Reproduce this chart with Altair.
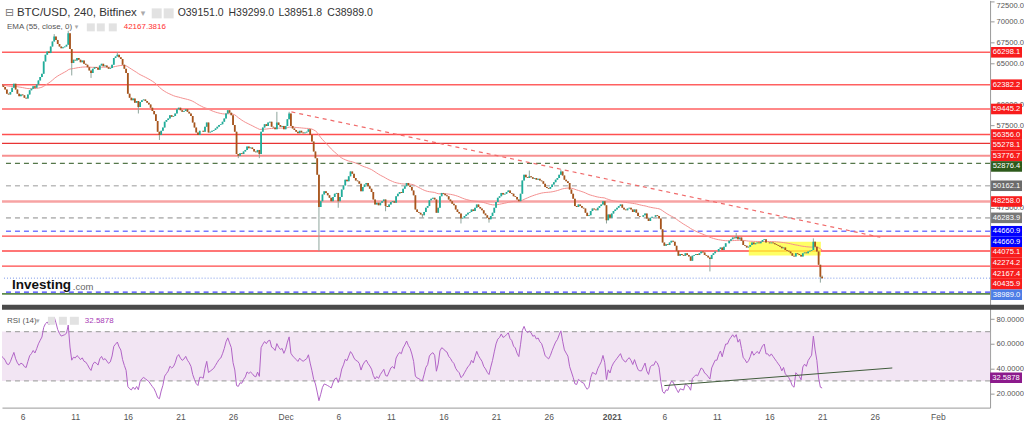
import altair as alt
import pandas as pd

FONT = "Liberation Sans"

# ---------------- data ----------------
# 4-hour closes, six per day (days counted from 1 Nov), 4 Nov .. 20 Jan
closes_by_day = [
    [62300, 62100, 61800, 61300, 61200, 61500],  # Nov 4
    [62000, 62500, 61800, 61300, 61000, 61200],  # Nov 5
    [61100, 60800, 60700, 61200, 61700, 61900],  # Nov 6
    [62200, 62000, 62400, 62900, 63300, 63700],  # Nov 7
    [65200, 66000, 66400, 66200, 67000, 67600],  # Nov 8
    [68200, 67800, 67300, 67000, 66800, 66900],  # Nov 9
    [67000, 67200, 68600, 66700, 65000, 65400],  # Nov 10
    [65300, 65600, 65400, 65100, 65300, 64900],  # Nov 11
    [64800, 64500, 64100, 63800, 64300, 64500],  # Nov 12
    [64400, 64200, 64700, 64900, 64600, 64700],  # Nov 13
    [64500, 64300, 64400, 64800, 65600, 65800],  # Nov 14
    [66000, 65700, 65500, 64800, 64300, 63800],  # Nov 15
    [61300, 60800, 60500, 60700, 60200, 60400],  # Nov 16
    [59700, 60300, 60500, 60600, 60400, 60200],  # Nov 17
    [60000, 59600, 59200, 58800, 58000, 56700],  # Nov 18
    [56300, 56800, 57200, 57900, 58100, 58300],  # Nov 19
    [58700, 58500, 58600, 58900, 59400, 59600],  # Nov 20
    [59300, 59100, 59200, 59400, 59100, 58900],  # Nov 21
    [58600, 57800, 57200, 56600, 56300, 56800],  # Nov 22
    [56800, 56700, 57300, 57800, 56600, 56700],  # Nov 23
    [56800, 56900, 57100, 57300, 57500, 57600],  # Nov 24
    [57900, 58300, 58900, 59300, 59000, 58700],  # Nov 25
    [57500, 56700, 54000, 53800, 54100, 54000],  # Nov 26
    [54300, 54500, 54900, 54700, 54800, 54600],  # Nov 27
    [54300, 54200, 54500, 54000, 56700, 57200],  # Nov 28
    [57600, 57400, 57800, 57900, 57300, 57200],  # Nov 29
    [57000, 57800, 57500, 57300, 57400, 57000],  # Nov 30
    [57400, 58200, 58900, 57400, 57100, 56900],  # Dec 1
    [56700, 56500, 56800, 56600, 56500, 56600],  # Dec 2
    [56700, 57000, 56300, 55500, 54300, 53500],  # Dec 3
    [51500, 47600, 48300, 49100, 49500, 49300],  # Dec 4
    [49000, 48700, 48300, 48800, 49200, 49300],  # Dec 5
    [48300, 48800, 49700, 50200, 50900, 50700],  # Dec 6
    [51300, 51900, 51600, 51100, 50800, 50700],  # Dec 7
    [50400, 49500, 50000, 50300, 50500, 50100],  # Dec 8
    [49800, 49400, 48500, 47900, 48100, 47800],  # Dec 9
    [48100, 48300, 48500, 47700, 47600, 47900],  # Dec 10
    [48200, 48300, 48100, 48900, 49200, 49400],  # Dec 11
    [49300, 49800, 50100, 50500, 50200, 50000],  # Dec 12
    [49600, 49000, 47300, 47000, 46900, 46700],  # Dec 13
    [46600, 47000, 47500, 47700, 48400, 48600],  # Dec 14
    [48700, 48500, 46900, 47500, 48900, 49300],  # Dec 15
    [49200, 49000, 48900, 48500, 48300, 48000],  # Dec 16
    [47800, 47300, 47000, 46800, 46200, 46300],  # Dec 17
    [46500, 46700, 46900, 47000, 47300, 47100],  # Dec 18
    [47500, 47900, 47600, 47400, 47200, 46800],  # Dec 19
    [46600, 46300, 46100, 46500, 46900, 47500],  # Dec 20
    [48200, 48700, 48900, 49300, 49100, 49200],  # Dec 21
    [49400, 49600, 49300, 49200, 48900, 48800],  # Dec 22
    [48500, 48300, 49200, 50800, 51500, 51200],  # Dec 23
    [51100, 51300, 51200, 51000, 51100, 50900],  # Dec 24
    [51000, 50800, 50700, 50400, 50000, 49900],  # Dec 25
    [49800, 50000, 50300, 50600, 50900, 51100],  # Dec 26
    [51500, 51900, 51400, 50900, 50700, 50500],  # Dec 27
    [49700, 49200, 48600, 47700, 47600, 47900],  # Dec 28
    [47700, 47500, 47400, 46900, 46500, 46600],  # Dec 29
    [47100, 47400, 47300, 47200, 47500, 47700],  # Dec 30
    [47900, 48300, 47800, 46000, 46700, 46300],  # Dec 31
    [46800, 47100, 47300, 47500, 47700, 47900],  # Jan 1
    [47500, 47300, 47200, 47400, 47500, 47300],  # Jan 2
    [47000, 47300, 46900, 46500, 46400, 46400],  # Jan 3
    [46600, 46800, 46200, 45900, 46300, 46400],  # Jan 4
    [46400, 46600, 46500, 46200, 44900, 43300],  # Jan 5
    [42900, 43100, 43000, 43300, 43500, 43400],  # Jan 6
    [42900, 42300, 41700, 41900, 41800, 41700],  # Jan 7
    [42000, 41800, 41600, 41100, 41700, 41800],  # Jan 8
    [41900, 41800, 42000, 42200, 42100, 41800],  # Jan 9
    [41700, 41500, 41300, 41800, 42000, 42200],  # Jan 10
    [42200, 42500, 42700, 42400, 42800, 43200],  # Jan 11
    [43200, 43500, 43700, 43900, 43800, 44000],  # Jan 12
    [43700, 43900, 43500, 43000, 42900, 42700],  # Jan 13
    [42800, 43000, 43300, 43100, 43200, 43300],  # Jan 14
    [43200, 43400, 43600, 43700, 43300, 43300],  # Jan 15
    [43200, 43300, 43200, 43100, 43000, 42900],  # Jan 16
    [42800, 42600, 42700, 42400, 42300, 42200],  # Jan 17
    [42000, 41700, 41600, 42000, 41900, 41800],  # Jan 18
    [41600, 42000, 42100, 42000, 42200, 42300],  # Jan 19
    [42400, 43400, 42800, 42200, 40600, 39151],  # Jan 20
]
first_open = 62400
last_ohlc = [39151.0, 39299.0, 38951.8, 38989.0]   # 21 Jan 00:00 candle
start_day = 3.0                                  # 4 Nov 00:00

# visible wicks (month, day, candle-of-day) -> price
wick_high = {("Nov", 9, 0): 68500, ("Nov", 10, 2): 68900, ("Nov", 15, 0): 66300,
             ("Nov", 30, 1): 59100, ("Dec", 1, 2): 59100, ("Dec", 24, 1): 52000,
             ("Dec", 27, 1): 52100, ("Jan", 12, 5): 44450, ("Jan", 20, 1): 43800}
wick_low = {("Nov", 10, 4): 63500, ("Nov", 12, 3): 63200, ("Nov", 17, 0): 58900,
            ("Nov", 19, 0): 55700, ("Nov", 26, 3): 53500, ("Nov", 28, 3): 53500,
            ("Dec", 4, 1): 42250, ("Dec", 6, 0): 47500, ("Dec", 10, 3): 47080,
            ("Dec", 14, 0): 46300, ("Dec", 17, 4): 45600, ("Dec", 20, 2): 45700,
            ("Dec", 31, 3): 45600, ("Jan", 10, 2): 39800, ("Jan", 20, 5): 38450}

# horizontal levels (values) and their styles
line_values = [66298.1, 62382.2, 59445.2, 56356.0, 55278.1, 53776.7, 52876.4, 50162.1,
               48258.0, 46283.9, 44660.9, 44075.1, 42274.2, 40435.9, 38989.0, 37300.0, 37090.0]
line_colors = ["#ff6060", "#ff6060", "#ff6060", "#ff5050", "#e83434", "#f79090", "#55774a", "#bcbcbc",
               "#f7a3a3", "#bcbcbc", "#7878ff", "#ff4848", "#ff4848", "#ff4848", "#7896e8", "#4040ff", "#5d8a4c"]
line_widths = [1.5, 1.5, 1.5, 1.5, 1.2, 2, 1.2, 1.6, 2.5, 1.6, 1.5, 1.3, 1.3, 1.3, 1, 1.3, 1.6]
line_dashes = [None, None, None, None, None, None, [5, 4], [5, 4], None, [5, 4], [5, 4],
               None, None, None, [1, 2], [5, 4], None]

# price tags on the right scale
tag_values = [66298.1, 62382.2, 59445.2, 56356.0, 55278.1, 53776.7, 52876.4, 50162.1, 48258.0,
              46283.9, 44660.9, 44660.9, 44075.1, 42274.2, 42167.4, 40435.9, 38989.0]
tag_colors = ["#f81c1c"] * 6 + ["#2d5a1b", "#6b6b6b", "#f81c1c", "#777777", "#0000ff", "#0000ff",
                                "#f81c1c", "#f81c1c", "#f81c1c", "#f81c1c", "#4d7de6"]

# scale labels that are not hidden behind the tags
price_ticks = [72500, 70000, 67500, 65000, 60000, 57500, 47500]

trend_t = [30.55, 86.53]
trend_p = [59093, 43935]
box_t = [74.03, 80.88]
box_p = [43404, 41738]

rsi_trend_t = [66.0, 87.67]
rsi_trend_v = [26.2, 40.5]
rsi_last = 32.5878

tick_days = [5, 10, 15, 20, 25, 30, 35, 40, 45, 50, 55, 61, 66, 71, 76, 81, 86, 92]
tick_labels = ["6", "11", "16", "21", "26", "Dec", "6", "11", "16", "21", "26", "2021",
               "6", "11", "16", "21", "26", "Feb"]

# ---------------- build tables ----------------
month_off = {"Nov": -4, "Dec": 26, "Jan": 57}


def cidx(key):
    m, d, k = key
    return (month_off[m] + d) * 6 + k


closes = [c for day in closes_by_day for c in day] + [last_ohlc[3]]
n = len(closes)
opens = [first_open] + closes[:-1]
opens[-1] = last_ohlc[0]
highs = [max(o, c) for o, c in zip(opens, closes)]
lows = [min(o, c) for o, c in zip(opens, closes)]
highs[-1] = last_ohlc[1]
lows[-1] = last_ohlc[2]
for k, v in wick_high.items():
    highs[cidx(k)] = v
for k, v in wick_low.items():
    lows[cidx(k)] = v
ts = [start_day + i / 6 for i in range(n)]
cdf = pd.DataFrame({"t": ts, "o": opens, "c": closes, "h": highs, "l": lows})
cdf["up"] = cdf["c"] >= cdf["o"]

# EMA(55, close)
ema = pd.Series(closes).ewm(span=55, adjust=False).mean()
edf = pd.DataFrame({"t": ts, "ema": ema})

# RSI(14), Wilder smoothing
ag, al = 300.0, 300.0
rsi = [50.0]
for i in range(1, n):
    d = closes[i] - closes[i - 1]
    ag = (ag * 13 + max(d, 0)) / 14
    al = (al * 13 + max(-d, 0)) / 14
    rsi.append(100 - 100 / (1 + ag / al) if al > 0 else 100)
rdf = pd.DataFrame({"t": ts, "rsi": rsi})

# ---------------- scales / axes ----------------
X_DOMAIN = [3.036, 96.965]
P_DOMAIN = [35765, 72574]
R_DOMAIN = [8.34, 91.74]
W, H_TOP, H_BOT = 990, 305, 103
PX_P = H_TOP / (P_DOMAIN[1] - P_DOMAIN[0])
PX_R = H_BOT / (R_DOMAIN[1] - R_DOMAIN[0])
TAG_PX = 10.6

xs = alt.Scale(domain=X_DOMAIN, nice=False, zero=False)
ps = alt.Scale(domain=P_DOMAIN, nice=False, zero=False)
rs = alt.Scale(domain=R_DOMAIN, nice=False, zero=False)

p_axis = alt.Axis(orient="right", values=price_ticks, format=".1f", title=None, grid=False,
                  labelFontSize=7.6, labelColor="#555", labelFont=FONT, tickSize=4,
                  tickColor="#999", domainColor="#999", labelPadding=2, labelFlush=2)
r_axis = alt.Axis(orient="right", values=[80, 60, 40, 20], format=".4f", title=None, grid=False,
                  labelFontSize=7.6, labelColor="#555", labelFont=FONT, tickSize=4,
                  tickColor="#999", domainColor="#999", labelPadding=2)
x_expr = "".join(f"datum.value == {d} ? '{lab}' : " for d, lab in zip(tick_days, tick_labels)) + "''"
x_axis = alt.Axis(values=tick_days, labelExpr=x_expr, title=None, grid=False, ticks=False,
                  domainColor="#999", labelColor="#555", labelFontSize=8.5, labelFont=FONT,
                  labelPadding=5, labelFlush=False,
                  labelFontWeight={"condition": {"test": "datum.value == 61", "value": "bold"},
                                   "value": "normal"})


def PX(f="t"):
    return alt.X(f"{f}:Q", scale=xs, axis=None)


def PY(f):
    return alt.Y(f"{f}:Q", scale=ps, axis=p_axis)


def RX(f="t"):
    return alt.X(f"{f}:Q", scale=xs, axis=x_axis)


def RY(f):
    return alt.Y(f"{f}:Q", scale=rs, axis=r_axis)


one = pd.DataFrame({"a": [0]})


def txt(s, x, y, size, color, weight="normal", font=FONT):
    return alt.Chart(one).mark_text(align="left", baseline="middle", fontSize=size, color=color,
                                    fontWeight=weight, font=font).encode(
        x=alt.value(x), y=alt.value(y), text=alt.value(s))


def box(x1, y1, x2, y2, color):
    return alt.Chart(one).mark_rect(color=color).encode(
        x=alt.value(x1), x2=alt.value(x2), y=alt.value(y1), y2=alt.value(y2))


# ---------------- price panel ----------------
layers = []
for v, col, w, dash in zip(line_values, line_colors, line_widths, line_dashes):
    kw = dict(color=col, strokeWidth=w)
    if dash:
        kw["strokeDash"] = dash
    layers.append(alt.Chart(pd.DataFrame({"p": [v]})).mark_rule(**kw).encode(y=PY("p")))

layers.append(alt.Chart(pd.DataFrame({"t1": [box_t[0]], "t2": [box_t[1]], "p1": [box_p[0]], "p2": [box_p[1]]}))
              .mark_rect(color="#ffff30", opacity=0.75).encode(x=PX("t1"), x2="t2:Q", y=PY("p1"), y2="p2:Q"))
layers.append(alt.Chart(pd.DataFrame({"t": trend_t, "p": trend_p}))
              .mark_line(color="#f06a6a", strokeWidth=1.2, strokeDash=[4, 4]).encode(x=PX(), y=PY("p")))
layers.append(alt.Chart(edf).mark_line(color="#f39090", strokeWidth=1, clip=True).encode(x=PX(), y=PY("ema")))
layers.append(alt.Chart(cdf).mark_rule(color="#8fa59d", strokeWidth=1, clip=True)
              .encode(x=PX(), y=PY("l"), y2="h:Q"))
layers.append(alt.Chart(cdf[cdf["up"]]).mark_rule(color="#1fae9b", strokeWidth=1.8, clip=True)
              .encode(x=PX(), y=PY("o"), y2="c:Q"))
layers.append(alt.Chart(cdf[~cdf["up"]]).mark_rule(color="#a9541b", strokeWidth=1.8, clip=True)
              .encode(x=PX(), y=PY("o"), y2="c:Q"))

# stacked tags
tag_h = TAG_PX / PX_P
tps = []
for v in tag_values:
    tps.append(v if not tps else min(v, tps[-1] - tag_h))
tdf = pd.DataFrame({"tp": tps, "top": [p + tag_h / 2 for p in tps], "bot": [p - tag_h / 2 for p in tps],
                    "col": tag_colors, "lab": [f"{v:.1f}" for v in tag_values]})
layers.append(alt.Chart(tdf).mark_rect().encode(
    x=alt.value(991), x2=alt.value(1022), y=PY("top"), y2="bot:Q", color=alt.Color("col:N", scale=None)))
layers.append(alt.Chart(tdf).mark_text(color="white", fontSize=7.6, font=FONT, align="center",
                                       baseline="middle").encode(
    x=alt.value(1006.5), y=PY("tp"), text="lab:N"))

# header texts
layers += [
    txt("⊟", 3, 13, 11, "#777", font="DejaVu Sans"),
    txt("BTC/USD, 240, Bitfinex", 15, 13, 11.5, "#333"),
    txt("▾", 139, 13, 9, "#aaa", font="DejaVu Sans"),
    box(150, 8, 160, 18, "#e2e2e2"), box(162, 8, 172, 18, "#e2e2e2"),
    txt("O39151.0", 176, 13, 10.5, "#333"),
    txt("H39299.0", 227, 13, 10.5, "#333"),
    txt("L38951.8", 277, 13, 10.5, "#333"),
    txt("C38989.0", 326, 13, 10.5, "#333"),
    txt("EMA (55, close, 0)", 5, 27, 8, "#555"),
    txt("▾", 73, 27, 7, "#aaa", font="DejaVu Sans"),
    box(85, 23, 93, 31, "#e2e2e2"), box(95, 23, 103, 31, "#e2e2e2"), box(107, 23, 115, 31, "#e2e2e2"),
    txt("42167.3816", 122, 27, 8, "#ff3030"),
    txt("Investing", 10, 285, 13.5, "#111", weight="bold"),
    txt(".com", 71, 287, 9.5, "#666"),
]
top = alt.layer(*layers).properties(width=W, height=H_TOP)

# ---------------- RSI panel ----------------
sep_bottom = R_DOMAIN[1] - 5 / PX_R
rl = []
rl.append(alt.Chart(pd.DataFrame({"t1": [X_DOMAIN[0]], "t2": [X_DOMAIN[1]], "r1": [30], "r2": [70]}))
          .mark_rect(color="#f2e5f3").encode(x=RX("t1"), x2="t2:Q", y=RY("r1"), y2="r2:Q"))
rl.append(alt.Chart(pd.DataFrame({"r": [70, 30]})).mark_rule(color="#aaaaaa", strokeDash=[5, 4], strokeWidth=1.2)
          .encode(y=RY("r")))
rl.append(alt.Chart(rdf).mark_line(color="#b163c6", strokeWidth=1, clip=True).encode(x=RX(), y=RY("rsi")))
rl.append(alt.Chart(pd.DataFrame({"t": rsi_trend_t, "r": rsi_trend_v}))
          .mark_line(color="#3f5a3a", strokeWidth=1).encode(x=RX(), y=RY("r")))
rl.append(alt.Chart(pd.DataFrame({"r1": [R_DOMAIN[1]], "r2": [sep_bottom]})).mark_rect(color="#4a4a4a")
          .encode(x=alt.value(0), x2=alt.value(1024), y=RY("r1"), y2="r2:Q"))
rh = TAG_PX / PX_R
rl.append(alt.Chart(pd.DataFrame({"r1": [rsi_last + rh / 2], "r2": [rsi_last - rh / 2]}))
          .mark_rect(color="#8c1a8c").encode(x=alt.value(990), x2=alt.value(1022), y=RY("r1"), y2="r2:Q"))
rl.append(alt.Chart(pd.DataFrame({"r": [rsi_last], "lab": [f"{rsi_last:.4f}"]}))
          .mark_text(color="white", fontSize=7.6, font=FONT, align="center", baseline="middle")
          .encode(x=alt.value(1006), y=RY("r"), text="lab:N"))
rl += [
    txt("RSI (14)", 5, 16, 8, "#555"),
    txt("▾", 34, 16, 7, "#aaa", font="DejaVu Sans"),
    box(46, 12, 53, 20, "#e2e2e2"), box(57, 12, 65, 20, "#e2e2e2"), box(68, 12, 77, 20, "#e2e2e2"),
    txt(f"{rsi_last:.4f}", 83, 16, 8, "#a83ab5"),
]
bottom = alt.layer(*rl).properties(width=W, height=H_BOT)

chart = alt.vconcat(top, bottom, spacing=0, bounds="flush").properties(
    padding={"left": 0, "top": 0, "right": 0, "bottom": 0}
).configure_view(stroke=None)

chart.save("out.html", embed_options={"renderer": "svg", "actions": False})
